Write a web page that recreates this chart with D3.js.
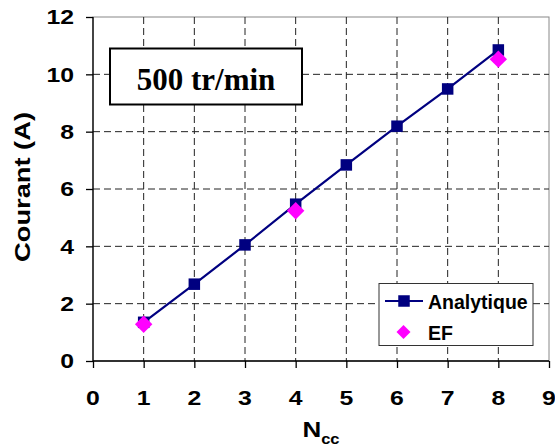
<!DOCTYPE html>
<html><head><meta charset="utf-8">
<script src="https://cdn.jsdelivr.net/npm/d3@7"></script>
<style>body{margin:0;background:#fff;}svg{display:block;}</style>
</head><body>
<svg id="c" width="555" height="448"></svg>
<script>
const nccValues = [1, 2, 3, 4, 5, 6, 7, 8];
const analytique = [1.35, 2.68, 4.05, 5.47, 6.84, 8.19, 9.49, 10.85];
const efN = [1, 4, 8];
const efValues = [1.28, 5.24, 10.53];
const xTicks = [0, 1, 2, 3, 4, 5, 6, 7, 8, 9];
const yTicks = [0, 2, 4, 6, 8, 10, 12];
const seriesNames = ["Analytique", "EF"];
const boxLabel = "500 tr/min";

const svg = d3.select("#c");
const L = 93, R = 549, T = 17, B = 361;
const x = d3.scaleLinear().domain([0, 9]).range([L, R]);
const y = d3.scaleLinear().domain([0, 12]).range([B, T]);
const SX = 1.24;
const sans = "'Liberation Sans', Arial, sans-serif";

// plot frame (top/right gray)
svg.append("rect").attr("x", L).attr("y", T).attr("width", R - L).attr("height", B - T)
  .attr("fill", "#fff").attr("stroke", "#888").attr("stroke-width", 1);

// grid
svg.append("g").selectAll("line").data(xTicks.filter(d => d > 0 && d < 9)).join("line")
  .attr("x1", d => x(d)).attr("x2", d => x(d)).attr("y1", T).attr("y2", B)
  .attr("stroke", "#222").attr("stroke-width", 1).attr("stroke-dasharray", "7,4");
svg.append("g").selectAll("line").data(yTicks.filter(d => d > 0 && d < 12)).join("line")
  .attr("x1", L).attr("x2", R).attr("y1", d => y(d)).attr("y2", d => y(d))
  .attr("stroke", "#222").attr("stroke-width", 1).attr("stroke-dasharray", "7,4");

// axes
const xAxis = d3.axisBottom(x).tickValues(xTicks).tickSize(7).tickFormat("");
const yAxis = d3.axisLeft(y).tickValues(yTicks).tickSize(7).tickFormat("");
const gx = svg.append("g").attr("transform", `translate(0,${B})`).call(xAxis);
const gy = svg.append("g").attr("transform", `translate(${L},0)`).call(yAxis);
[gx, gy].forEach(g => {
  g.select(".domain").attr("stroke", "#000").attr("stroke-width", 1.3);
  g.selectAll(".tick line").attr("stroke", "#000").attr("stroke-width", 1.3);
});
gx.select(".domain").attr("d", `M${L},0H${R}`);
gy.select(".domain").attr("d", `M0,${T}V${B}`);

// tick labels
svg.append("g").selectAll("text").data(xTicks).join("text")
  .attr("transform", d => `translate(${x(d)},405) scale(${SX},1)`)
  .attr("text-anchor", "middle").attr("font-family", sans).attr("font-weight", "bold")
  .attr("font-size", 20).attr("fill", "#000").text(d => d);
svg.append("g").selectAll("text").data(yTicks).join("text")
  .attr("transform", d => `translate(74,${y(d) + 7.2}) scale(${SX},1)`)
  .attr("text-anchor", "end").attr("font-family", sans).attr("font-weight", "bold")
  .attr("font-size", 20).attr("fill", "#000").text(d => d);

// axis titles
svg.append("text")
  .attr("transform", `translate(29.5,187) rotate(-90) scale(${SX},1)`)
  .attr("text-anchor", "middle").attr("font-family", sans).attr("font-weight", "bold")
  .attr("font-size", 22).attr("fill", "#000").text("Courant (A)");
const xt = svg.append("text")
  .attr("transform", `translate(321,437) scale(1.18,1)`)
  .attr("text-anchor", "middle").attr("font-family", sans).attr("font-weight", "bold")
  .attr("font-size", 22).attr("fill", "#000");
xt.append("tspan").text("N");
xt.append("tspan").attr("font-size", 14).attr("dy", 7).text("cc");

// series line
const line = d3.line().x((d, i) => x(nccValues[i])).y(d => y(d));
svg.append("path").datum(analytique).attr("d", line)
  .attr("fill", "none").attr("stroke", "#000080").attr("stroke-width", 2.2);

const sq = 11.5;
svg.append("g").selectAll("rect").data(analytique).join("rect")
  .attr("x", (d, i) => x(nccValues[i]) - sq / 2).attr("y", d => y(d) - sq / 2)
  .attr("width", sq).attr("height", sq).attr("fill", "#000080");

const diamond = (cx, cy, r) => `M${cx},${cy - r}L${cx + r},${cy}L${cx},${cy + r}L${cx - r},${cy}Z`;
svg.append("g").selectAll("path").data(efValues).join("path")
  .attr("d", (d, i) => diamond(x(efN[i]), y(d), 8.7)).attr("fill", "#FF00FF");

// annotation box
svg.append("rect").attr("x", 110).attr("y", 48.5).attr("width", 192).attr("height", 56)
  .attr("fill", "#fff").attr("stroke", "#000").attr("stroke-width", 2);
svg.append("text").attr("x", 206).attr("y", 90).attr("text-anchor", "middle")
  .attr("font-family", "'Liberation Serif', 'Times New Roman', serif").attr("font-weight", "bold")
  .attr("font-size", 31).attr("fill", "#000").text(boxLabel);

// legend
const lg = svg.append("g");
lg.append("rect").attr("x", 379).attr("y", 283.5).attr("width", 154).attr("height", 62)
  .attr("fill", "#fff").attr("stroke", "#333").attr("stroke-width", 1);
lg.append("line").attr("x1", 385).attr("x2", 423).attr("y1", 301).attr("y2", 301)
  .attr("stroke", "#000080").attr("stroke-width", 2.2);
lg.append("rect").attr("x", 404 - sq / 2).attr("y", 301 - sq / 2).attr("width", sq).attr("height", sq)
  .attr("fill", "#000080");
lg.append("path").attr("d", diamond(403.5, 332, 7)).attr("fill", "#FF00FF");
lg.selectAll("text").data(seriesNames).join("text")
  .attr("x", 428).attr("y", (d, i) => i === 0 ? 308.5 : 339.5)
  .attr("font-family", sans).attr("font-weight", "bold").attr("font-size", 19.5)
  .attr("fill", "#000").text(d => d);
</script>
</body></html>
